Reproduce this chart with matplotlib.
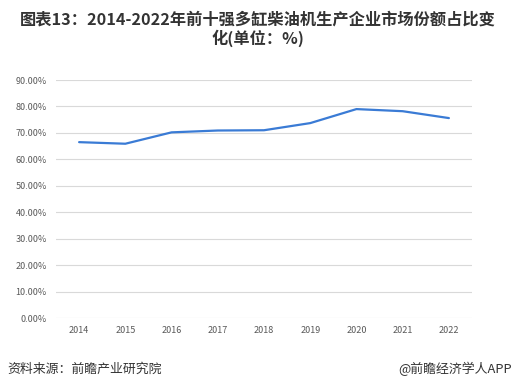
import matplotlib
matplotlib.use("Agg")
import matplotlib.pyplot as plt

years = ["2014", "2015", "2016", "2017", "2018", "2019", "2020", "2021", "2022"]
share = [66.5, 65.9, 70.2, 70.9, 71.0, 73.7, 79.0, 78.2, 75.6]
yticks = [0, 10, 20, 30, 40, 50, 60, 70, 80, 90]

plt.rcParams['font.family'] = ['Noto Sans CJK SC', 'DejaVu Sans']

fig = plt.figure(figsize=(5.16, 3.92), dpi=100)
ax = fig.add_axes([56/516, (392-318)/392, (472-56)/516, (318-80)/392])

x = list(range(len(years)))
ax.plot(x, share, color="#3a7bd5", linewidth=1.6, solid_capstyle="round")
ax.set_xlim(-0.5, len(years) - 0.5)
ax.set_ylim(0, 90)
ax.set_yticks(yticks)
ax.set_yticklabels([f"{v:.2f}%" for v in yticks], fontsize=6.5, color="#595959")
ax.set_xticks(x)
ax.set_xticklabels(years, fontsize=6.5, color="#595959")
ax.grid(axis="y", color="#d9d9d9", linewidth=0.8)
ax.set_axisbelow(True)
for s in ax.spines.values():
    s.set_visible(False)
ax.tick_params(length=0)
ax.tick_params(axis="x", pad=6)
ax.tick_params(axis="y", pad=6.5)

fig.text(0.5, 1 - 20/392, "图表13：2014-2022年前十强多缸柴油机生产企业市场份额占比变",
         ha="center", va="center", fontsize=11.7, fontweight="bold", color="#333333")
fig.text(0.5, 1 - 38/392, "化(单位：%)",
         ha="center", va="center", fontsize=11.7, fontweight="bold", color="#333333")
fig.text(7/516, 1 - 369/392, "资料来源：前瞻产业研究院", ha="left", va="center",
         fontsize=9.3, color="#333333")
fig.text(512/516, 1 - 369/392, "@前瞻经济学人APP", ha="right", va="center",
         fontsize=9.3, color="#333333")

fig.savefig("out.png", dpi=100)
